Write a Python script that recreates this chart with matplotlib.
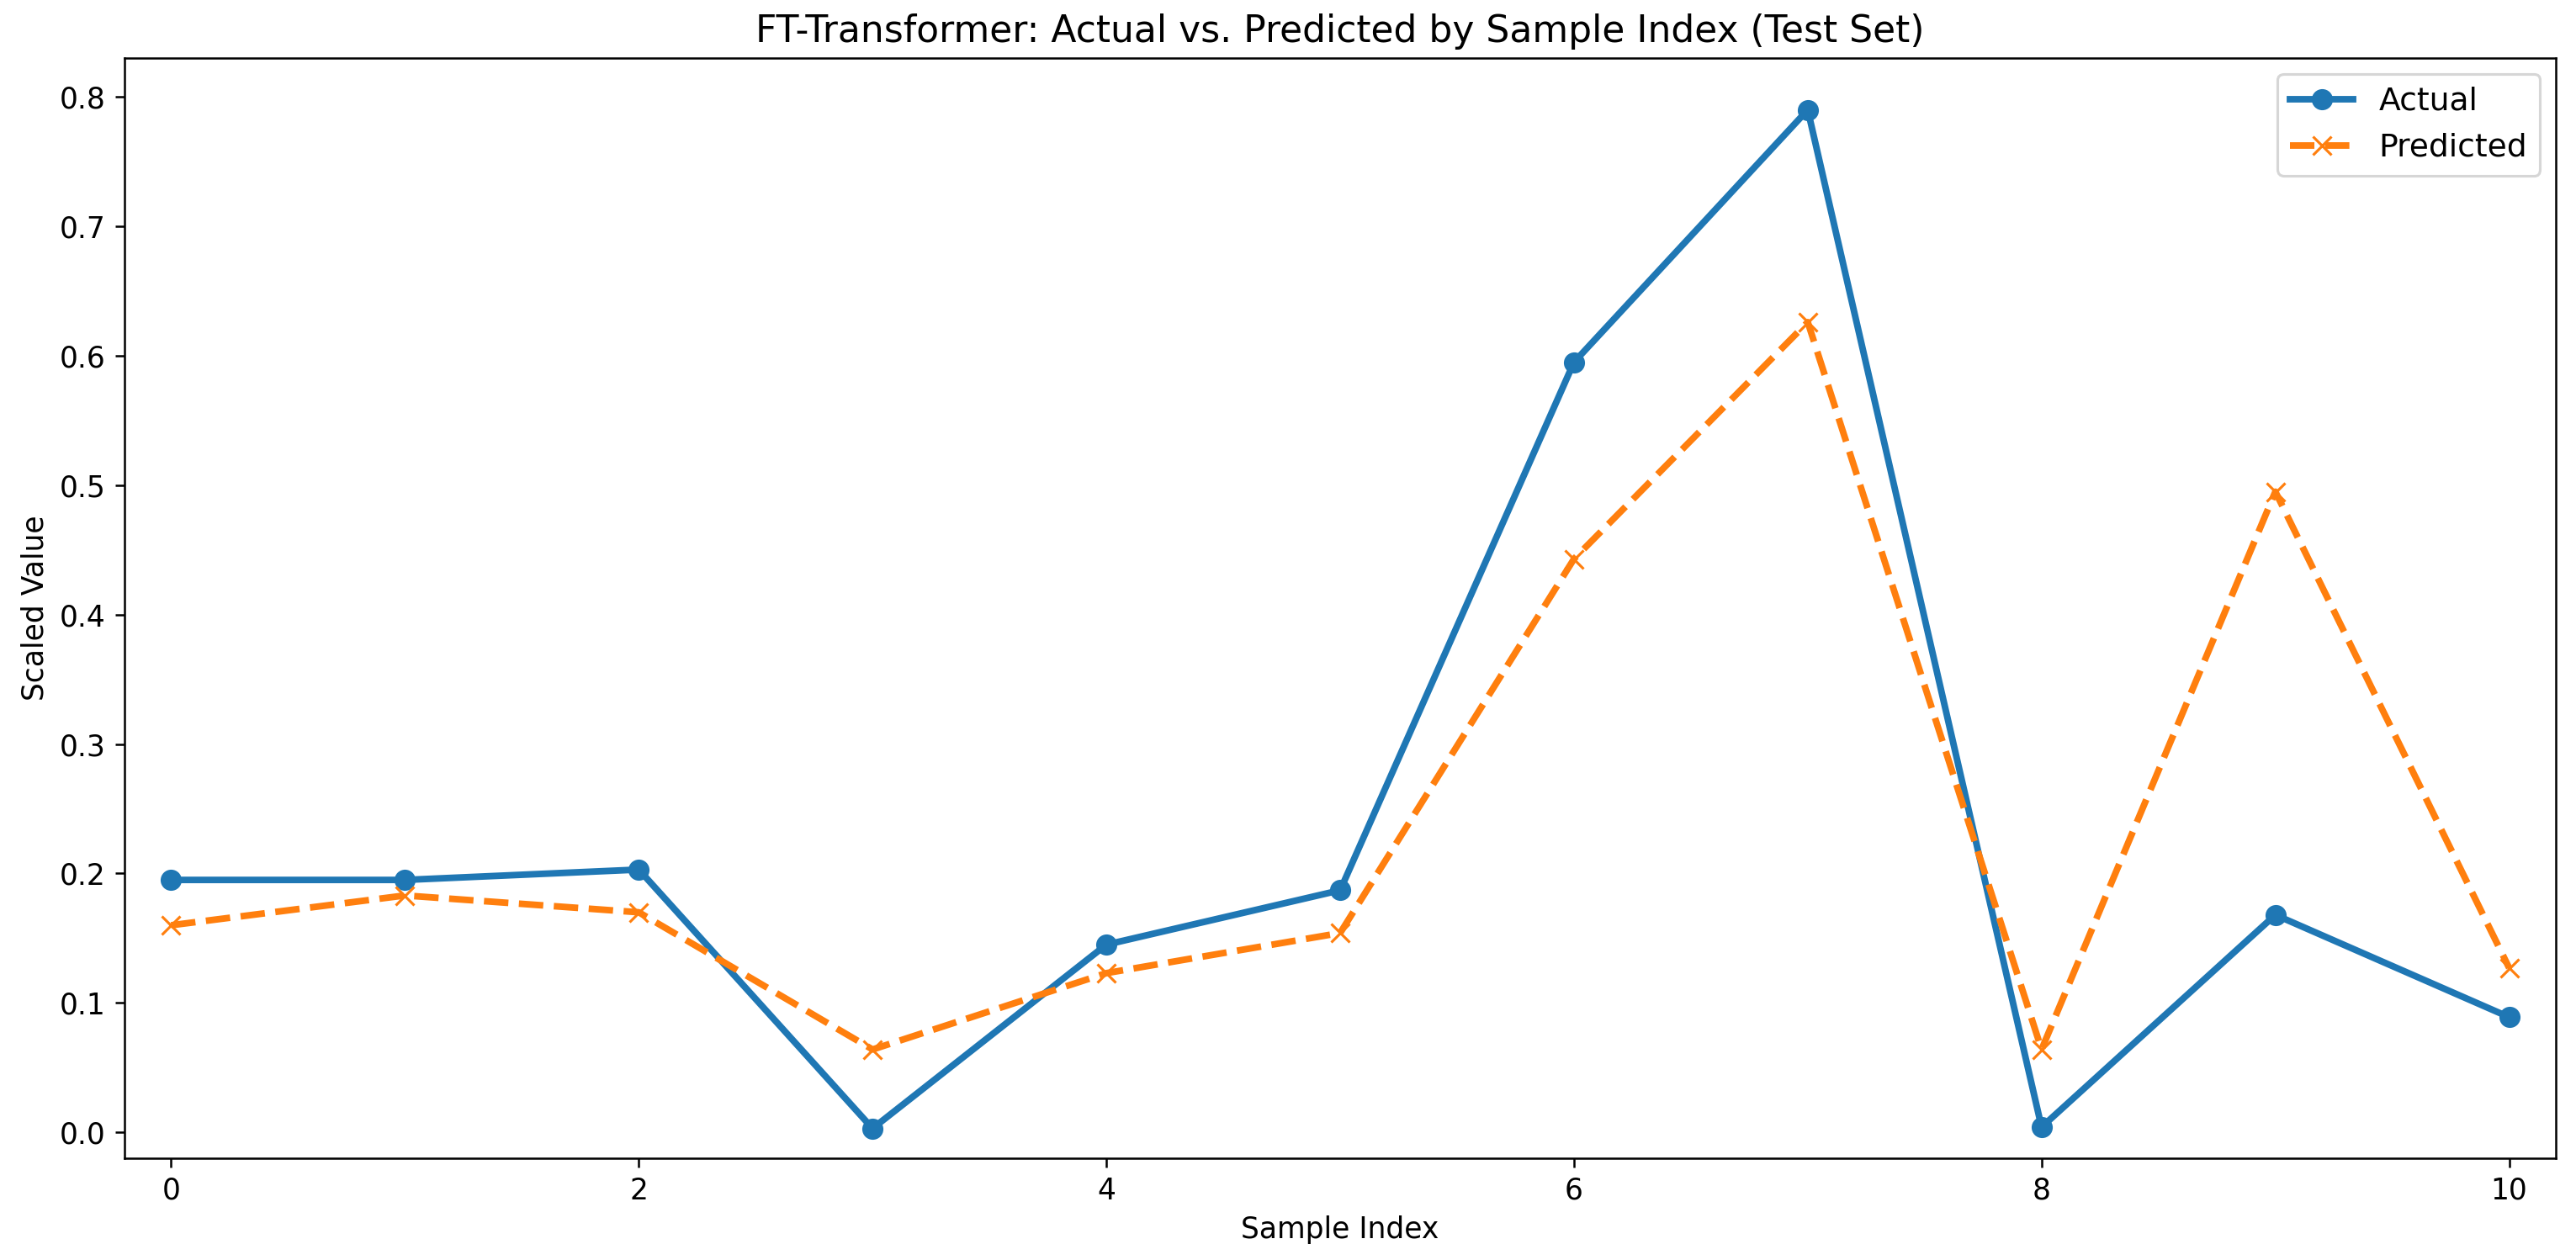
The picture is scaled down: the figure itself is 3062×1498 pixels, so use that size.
import numpy as np
import matplotlib
matplotlib.use("Agg")
import matplotlib.pyplot as plt

# values
sample_index = list(range(11))
actual = [0.195, 0.195, 0.203, 0.003, 0.145, 0.187, 0.595, 0.790, 0.004, 0.168, 0.089]
predicted = [0.160, 0.183, 0.170, 0.064, 0.123, 0.154, 0.443, 0.626, 0.064, 0.495, 0.127]

DPI = 226
fig, ax = plt.subplots(figsize=(3062 / DPI, 1498 / DPI), dpi=DPI)
fig.subplots_adjust(left=0.0483, right=0.9922, top=0.9539, bottom=0.0808)

ax.plot(sample_index, actual, marker="o", linestyle="-", linewidth=2.5,
        markersize=7, label="Actual")
ax.plot(sample_index, predicted, marker="x", linestyle="--", linewidth=2.5,
        markersize=7, label="Predicted")

ax.set_xlim(-0.2, 10.2)
ax.set_ylim(-0.02, 0.83)
ax.tick_params(labelsize=11)

ax.set_title("FT-Transformer: Actual vs. Predicted by Sample Index (Test Set)", fontsize=14)
ax.set_xlabel("Sample Index", fontsize=11)
ax.set_ylabel("Scaled Value", fontsize=11)
ax.legend(fontsize=12)

fig.savefig("out.png", dpi=DPI)
